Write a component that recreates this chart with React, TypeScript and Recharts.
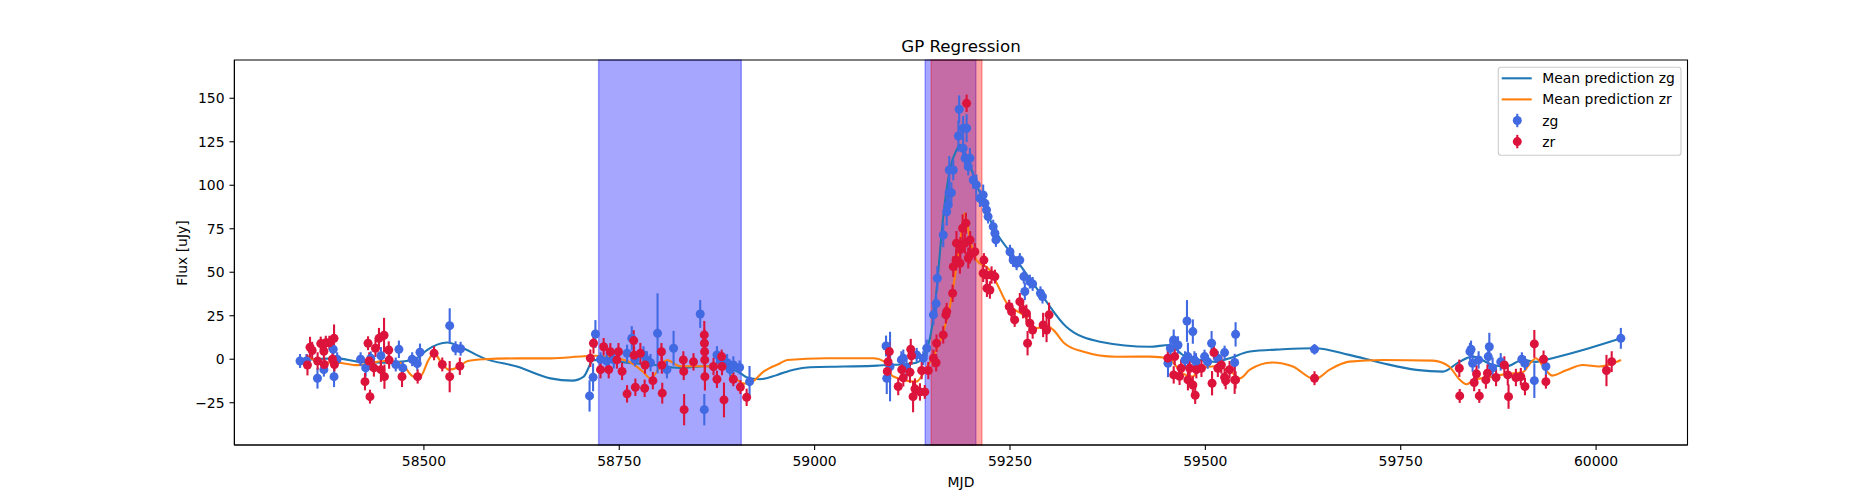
import React from "react";
import {
  ComposedChart,
  Line,
  Scatter,
  XAxis,
  YAxis,
  ErrorBar,
  ReferenceArea,
} from "recharts";

const FONT = "'DejaVu Sans', sans-serif";
const ZG_COLOR = "#4169E1";
const ZR_COLOR = "#DC143C";
const ZG_LINE = "#1f77b4";
const ZR_LINE = "#ff7f0e";

// zg photometry (MJD, flux in uJy, 1-sigma error)
const zgMjd = [
  58341.5, 58349.7, 58363.8, 58372, 58384, 58385, 58389, 58419, 58425.5, 58432, 58445, 58464, 58468, 58473,
  58485, 58491.5, 58495, 58533, 58540.5, 58547,
  58712, 58716.5, 58719.5, 58726, 58734, 58743, 58760, 58766, 58770, 58781, 58785.5, 58790, 58799, 58811,
  58819.5, 58853.6, 58858.8, 58875, 58880, 58888, 58892, 58896, 58904, 58916.7,
  59091.4, 59092.3, 59096.5, 59111, 59113.5, 59117.6, 59130.6, 59139, 59143.5, 59152, 59155.5, 59157,
  59164.6, 59169, 59171, 59172, 59175, 59172.3, 59177.4, 59184, 59185, 59190, 59194.5, 59190, 59192.6,
  59198.7, 59196.6, 59203, 59207, 59211.5, 59215.7, 59218, 59220, 59222, 59228.5, 59230.7, 59232, 59250,
  59254, 59258.5, 59262.6, 59267.7, 59269, 59275.4, 59279, 59289, 59291.6,
  59452.2, 59455.3, 59459.5, 59465, 59476.5, 59484, 59477.7, 59474, 59486, 59488, 59499, 59503, 59508,
  59516, 59524.6, 59537.5, 59538.7, 59639.7,
  59838.6, 59840, 59842, 59849.7, 59862, 59863.4, 59867.6, 59878, 59905, 59909, 59921, 59935.8, 60031.7,
];
const zgFlux = [
  -1, -1, -10.9, -6, 5.7, -10, 0, 0, -5, 0.5, 2, -3, 5.7, -5,
  0, -2.5, 4, 19.3, 6.3, 6,
  -21.1, -10.4, 14.5, 0, -1, -0.4, 3.4, 12, 0, 2.5, -0.4, -2, 14.9, -6,
  6.3, 26, -29, 2.5, -1, -2, -6, -3.3, -4.7, -12.9,
  7.6, -11, -4.2, -0.4, 0.6, -5, 2.5, 0.6, 6.3, 25.5, 32, 46.5,
  71.4, 84.8, 88.7, 95.7, 95.7, 108.8, 108.8, 128.3, 143.7, 132.8, 132.8, 121.3, 115.5,
  115.5, 110.7, 103, 100.2, 92.5, 94.4, 89.6, 85.8, 82, 76.2, 72.4, 68.6, 61.8,
  57, 55.2, 57, 47.5, 38.9, 44.6, 43.3, 37.9, 36,
  -2.3, 6.3, 11.1, 8.2, 22, 15.9, 1.5, -0.4, -0.4, -1.5, 1.5, -1.5, 9.2,
  0.6, 3.8, -1.9, 14.3, 5.7,
  4.4, 5.7, -2.3, -0.4, 1.5, 7.2, -5, -1.5, 0, -2.3, -12.3, -4.2, 12,
];
const zgErr = [
  4, 4, 6, 4, 5, 6, 4, 4, 5, 4, 5, 4, 5, 4,
  4, 4, 5, 10, 4, 4,
  9, 8, 8, 4, 5, 5, 5, 7, 4, 5, 5, 5, 23, 5,
  10, 8, 9, 5, 4, 5, 4, 5, 4, 9,
  6, 9, 20, 5, 5, 5, 4, 4, 5, 6, 6, 7,
  7, 8, 6, 9, 6, 8, 6, 9, 8, 7, 8, 6, 6,
  6, 5, 5, 6, 5, 6, 5, 4, 4, 4, 4, 4, 4,
  4, 4, 4, 4, 5, 4, 4, 4, 4,
  8, 5, 6, 5, 12, 7, 8, 5, 5, 5, 4, 4, 7,
  4, 4, 5, 7, 3,
  5, 5, 5, 5, 6, 8, 6, 5, 4, 4, 10, 5, 6,
];

// zr photometry
const zrMjd = [
  58351, 58354.3, 58357, 58364, 58368, 58372, 58372.5, 58374.5, 58379, 58383, 58385, 58385.5, 58424.6,
  58428.5, 58430, 58431, 58436, 58438, 58442.5, 58445, 58449, 58449.5, 58455, 58455.5, 58472, 58492,
  58513, 58523.5, 58533, 58546,
  58713, 58717, 58726, 58730, 58736.5, 58738.6, 58747, 58749, 58753.6, 58760, 58768.5, 58769, 58770.6,
  58777, 58782.5, 58783, 58793, 58804, 58804.5, 58805, 58832, 58832.5, 58833, 58845, 58858.8, 58859,
  58859.2, 58859.4, 58859.6, 58870.6, 58875, 58881, 58881.5, 58884, 58896, 58905, 58913,
  59093, 59094, 59095.6, 59107, 59111.5, 59113.5, 59122, 59123, 59124, 59126, 59128.4, 59134.8, 59141,
  59137, 59145.5, 59152, 59155.5, 59156, 59164.6, 59168, 59169, 59176.6, 59177.4, 59181, 59181.5, 59186,
  59186.5, 59189.4, 59193.6, 59194.5, 59192.3, 59196.6, 59198.7, 59205, 59199, 59216.6, 59215.7, 59220,
  59226.4, 59230.7, 59220.5, 59224.3, 59249, 59252, 59256, 59262.6, 59266.8, 59271, 59275.4, 59279,
  59272.5, 59292.4, 59296.8, 59300,
  59452, 59460.8, 59459.5, 59469, 59467, 59477.7, 59480, 59484, 59487, 59488.5, 59495, 59508.6, 59511,
  59516, 59520.5, 59524.6, 59526, 59531, 59537.5, 59538.7, 59639.7,
  59825, 59825.5, 59844, 59847, 59850.6, 59861, 59859, 59872, 59882.6, 59887, 59888, 59897.4, 59903.7,
  59909, 59921, 59932.8, 59935.8, 60013.3, 60020,
];
const zrFlux = [
  -3.3, 6.9, 5, -1, 9, 4.6, -3, 9.5, 9.5, 0, 12, -3, -12.9,
  9.2, -1, -21.5, -5, 6.3, 12, -6, 13.8, -10, 5.3, -0.5, -10, -10,
  3.4, -3, -10, -4,
  0.6, 9.2, -6, 7.2, -6, 4.3, -0.4, 4.3, -7, -19.9, 10.7, 2.3, -16.1,
  3.4, -16.7, -3.3, -12.3, 4.3, -3.3, -19.5, -0.4, -7, -29, -1.5, 14, 9.2,
  4.3, -0.4, -10, -4.2, -11.5, 1.5, -4.2, -23.4, -11.5, -16, -21.9,
  -7, -1.5, 4.4, -15.7, -6, -10.7, -7.5, 5.7, 2, -21.5, -17, -18.8, -18.8,
  -6.5, -6.5, 0.6, -2, 9.2, 14, 25.5, 27.4, 37.9, 53.2, 57, 66.7, 55.2,
  63.2, 75.3, 78.2, 147.1, 66.7, 58.2, 60, 61.8, 68.6, 57, 49.4, 48.4,
  48.4, 47.5, 40.8, 39.8, 30.2, 27.4, 22.6, 33.1, 28.5, 26.4, 20.7, 16.8,
  9.2, 19.7, 16.8, 25.5,
  0.6, 1.5, -9, -5.2, -9.8, -11.9, -5.2, -14.8, -20.7, -6, -5.2, -13.8, 3.8,
  -5.2, -3.3, -10.4, -12.3, -6, -11.9, -11.9, -10.9,
  -5.2, -21.1, -13.4, -8.4, -21.1, -8, -11.9, -10.5, -3.3, -9, -21.5, -10.5, -10,
  -15.7, 8.8, 0, -12.9, -6.5, -1.4,
];
const zrErr = [
  6, 6, 5, 5, 4, 5, 4, 4, 4, 5, 8, 4, 5,
  4, 5, 4, 5, 5, 6, 7, 10, 7, 5, 5, 6, 4,
  4, 4, 9, 5,
  5, 6, 5, 5, 5, 5, 5, 5, 5, 5, 6, 5, 5,
  6, 5, 5, 5, 5, 5, 6, 5, 5, 9, 5, 8, 8,
  8, 8, 8, 5, 5, 4, 5, 10, 4, 4, 5,
  6, 5, 5, 5, 5, 5, 6, 6, 5, 9, 6, 5, 4,
  5, 5, 5, 5, 5, 5, 5, 5, 5, 6, 6, 7, 6,
  7, 8, 6, 5, 6, 6, 5, 5, 5, 4, 5, 5,
  5, 4, 5, 5, 4, 5, 4, 5, 5, 5, 5, 5,
  7, 7, 7, 7,
  5, 5, 5, 5, 5, 6, 5, 5, 5, 5, 5, 7, 4,
  5, 5, 5, 5, 5, 8, 5, 4,
  5, 4, 5, 5, 4, 5, 5, 5, 5, 6, 7, 5, 5,
  5, 8, 5, 4, 9, 6,
];

// GP mean prediction, zg
const predZgMjd = [
  58341, 58360, 58390, 58415, 58449, 58471, 58491, 58504, 58530, 58547, 58577, 58619, 58662, 58690,
  58704.5, 58717, 58726, 58740, 58760, 58790, 58828, 58860, 58890, 58905, 58913, 58930, 58952, 58973,
  58994, 59037, 59080, 59092, 59110, 59130, 59140, 59150, 59156, 59164.6, 59173, 59181.6, 59186,
  59194.5, 59207, 59228.5, 59258.5, 59292, 59322, 59365, 59429, 59454, 59471, 59493, 59514, 59531,
  59557, 59599, 59640, 59684, 59727, 59770, 59804, 59825, 59842, 59868, 59885, 59906, 59923, 59944,
  59991, 60032,
];
const predZg = [
  -1, 0, 0.5, -1.4, -2, -1.4, 0.6, 5.3, 9.6, 7, 0.5, -4.2, -11, -12.3,
  -10, -0.5, -0.4, -1, -2, -3, -5, -4, -5, -8, -10.4, -11.5, -9, -6,
  -4.6, -4.2, -3.7, -3.3, -3, -2, 2, 18, 39.8, 82, 108.8, 120.3, 123.2,
  116.4, 101, 76.2, 57, 36, 18.7, 10.1, 7.2, 8.2, 2.5, -0.4, -1.5, 0.6,
  4.4, 5.7, 6.3, 2.5, -2.3, -6.1, -7.1, -1.5, 1.5, -3.3, -4.2, -0.4, -1.5, 0.6,
  6.3, 12,
];

// GP mean prediction, zr
const predZrMjd = [
  58349, 58372, 58389, 58415, 58449, 58470, 58487, 58495, 58506, 58513, 58521, 58532, 58543, 58556,
  58577, 58619, 58662, 58704.5, 58720, 58740, 58765, 58780, 58790, 58800, 58811, 58828, 58860, 58885,
  58896, 58910, 58920, 58935, 58956, 58965, 59015, 59075, 59090, 59100, 59130, 59143, 59156, 59173,
  59186, 59192, 59199, 59207, 59224, 59233, 59246, 59267, 59284, 59296, 59305, 59320, 59343, 59386,
  59429, 59454, 59461, 59470, 59484, 59493, 59514, 59535, 59544, 59557, 59586, 59612, 59640, 59659,
  59684, 59727, 59791, 59812, 59825, 59834, 59846, 59863, 59885, 59906, 59914, 59923, 59936, 59944,
  59961, 59983, 60004, 60032,
];
const predZr = [
  2, -2, -2, -3.4, -1, -2, -10, -10, -0.4, 3.5, -1, -6, -4.8, -1,
  0, 0.5, 0.5, 1.7, 2, 1, -2, -7, -11, -6, -0.5, -4, -4, -5,
  -10, -14, -13, -7, -2.3, -0.4, 0.6, 0.6, -1.5, -9.8, -12.9, -5, 5.3, 30.2,
  66.7, 83.9, 68.6, 57, 51.3, 43.7, 32.2, 25.5, 17.8, 19.5, 17, 9, 4.4, 1.4,
  1.5, 0.6, -3, -8, -10, -5, -4, -8, -11, -6, -1.9, -4.2, -11.5, -6,
  -1.4, -0.4, -0.8, -4.2, -11.5, -14.4, -11.5, -10.5, -8.4, -7.5, -3.3, 0.6, -6.5, -9.4,
  -6.5, -3.3, -4.2, -0.4,
];

// shaded windows
const blueSpans = [
  [58723.6, 58906.1],
  [59141.5, 59206.3],
];
const redSpans = [[59149.2, 59214]];

const X_DOMAIN = [58257.5, 60117];
const Y_DOMAIN = [-49.3, 172];
const X_TICKS = [58500, 58750, 59000, 59250, 59500, 59750, 60000];
const Y_TICKS = [-25, 0, 25, 50, 75, 100, 125, 150];

const zgData = zgMjd.map((x, i) => ({ x, y: zgFlux[i], err: zgErr[i] }));
const zrData = zrMjd.map((x, i) => ({ x, y: zrFlux[i], err: zrErr[i] }));
const zgPred = predZgMjd.map((x, i) => ({ x, y: predZg[i] }));
const zrPred = predZrMjd.map((x, i) => ({ x, y: predZr[i] }));

const fmt = (v: number) => (v < 0 ? `\u2212${-v}` : `${v}`);
const tickStyle = { fill: "#000", fontSize: 13.9, fontFamily: FONT };

const dot = (color: string) => (p: any) =>
  <circle cx={p.cx} cy={p.cy} r={4.5} fill={color} />;

function Overlay() {
  const rows = [
    { label: "Mean prediction zg", color: ZG_LINE, kind: "line" },
    { label: "Mean prediction zr", color: ZR_LINE, kind: "line" },
    { label: "zg", color: ZG_COLOR, kind: "dot" },
    { label: "zr", color: ZR_COLOR, kind: "dot" },
  ];
  return (
    <svg
      width={1875}
      height={500}
      style={{ position: "absolute", left: 0, top: 0, pointerEvents: "none" }}
      fontFamily={FONT}
    >
      <text x={961} y={51.5} textAnchor="middle" fontSize={16.7}>GP Regression</text>
      <text x={961} y={487} textAnchor="middle" fontSize={13.9}>MJD</text>
      <text transform="translate(186.5,253) rotate(-90)" textAnchor="middle" fontSize={13.9}>
        Flux [uJy]
      </text>
      <rect x={1498.3} y={67.3} width={182.7} height={88} rx={2.8}
        fill="#fff" fillOpacity={0.8} stroke="#cccccc" strokeWidth={1.1} />
      {rows.map((r, i) => {
        const cy = 78.3 + i * 21.1;
        return (
          <g key={r.label}>
            {r.kind === "line" ? (
              <line x1={1501.7} x2={1531.7} y1={cy} y2={cy} stroke={r.color} strokeWidth={2.1} />
            ) : (
              <g>
                <line x1={1517.3} x2={1517.3} y1={cy - 6.7} y2={cy + 6.7} stroke={r.color} strokeWidth={2.1} />
                <circle cx={1517.3} cy={cy} r={4.5} fill={r.color} />
              </g>
            )}
            <text x={1542.3} y={cy + 5} fontSize={13.9}>{r.label}</text>
          </g>
        );
      })}
    </svg>
  );
}

export default function App() {
  return (
    <div style={{ position: "absolute", left: 0, top: 0, width: 1875, height: 500, background: "#fff" }}>
      <ComposedChart width={1875} height={500} margin={{ top: 60, right: 187.5, bottom: 0, left: 0 }}>
        <XAxis
          dataKey="x"
          type="number"
          domain={X_DOMAIN}
          allowDataOverflow
          ticks={X_TICKS}
          interval={0}
          height={55}
          tickSize={4.9}
          tickMargin={6}
          tick={tickStyle}
          tickLine={{ stroke: "#000", strokeWidth: 1.1 }}
          axisLine={{ stroke: "#000", strokeWidth: 1.1 }}
        />
        <YAxis
          type="number"
          domain={Y_DOMAIN}
          allowDataOverflow
          ticks={Y_TICKS}
          interval={0}
          width={234.4}
          tickSize={4.9}
          tickMargin={5}
          tick={tickStyle}
          tickFormatter={fmt}
          tickLine={{ stroke: "#000", strokeWidth: 1.1 }}
          axisLine={{ stroke: "#000", strokeWidth: 1.1 }}
        />
        {blueSpans.map(([a, b], i) => (
          <ReferenceArea key={`b${i}`} x1={a} x2={b} fill="#0000ff" fillOpacity={0.35}
            stroke="#0000ff" strokeOpacity={0.35} strokeWidth={1.5} />
        ))}
        {redSpans.map(([a, b], i) => (
          <ReferenceArea key={`r${i}`} x1={a} x2={b} fill="#ff0000" fillOpacity={0.35}
            stroke="#ff0000" strokeOpacity={0.35} strokeWidth={1.5} />
        ))}
        <Line data={zgPred} dataKey="y" type="monotone" stroke={ZG_LINE} strokeWidth={2.1}
          dot={false} activeDot={false} isAnimationActive={false} />
        <Line data={zrPred} dataKey="y" type="monotone" stroke={ZR_LINE} strokeWidth={2.1}
          dot={false} activeDot={false} isAnimationActive={false} />
        <Scatter data={zgData} dataKey="y" shape={dot(ZG_COLOR)} isAnimationActive={false}>
          <ErrorBar dataKey="err" direction="y" width={0} stroke={ZG_COLOR} strokeWidth={2.1} />
        </Scatter>
        <Scatter data={zrData} dataKey="y" shape={dot(ZR_COLOR)} isAnimationActive={false}>
          <ErrorBar dataKey="err" direction="y" width={0} stroke={ZR_COLOR} strokeWidth={2.1} />
        </Scatter>
        <ReferenceArea x1={X_DOMAIN[0]} x2={X_DOMAIN[1]} y1={Y_DOMAIN[0]} y2={Y_DOMAIN[1]}
          fill="none" stroke="#000" strokeWidth={1.1} ifOverflow="visible" />
      </ComposedChart>
      <Overlay />
    </div>
  );
}
